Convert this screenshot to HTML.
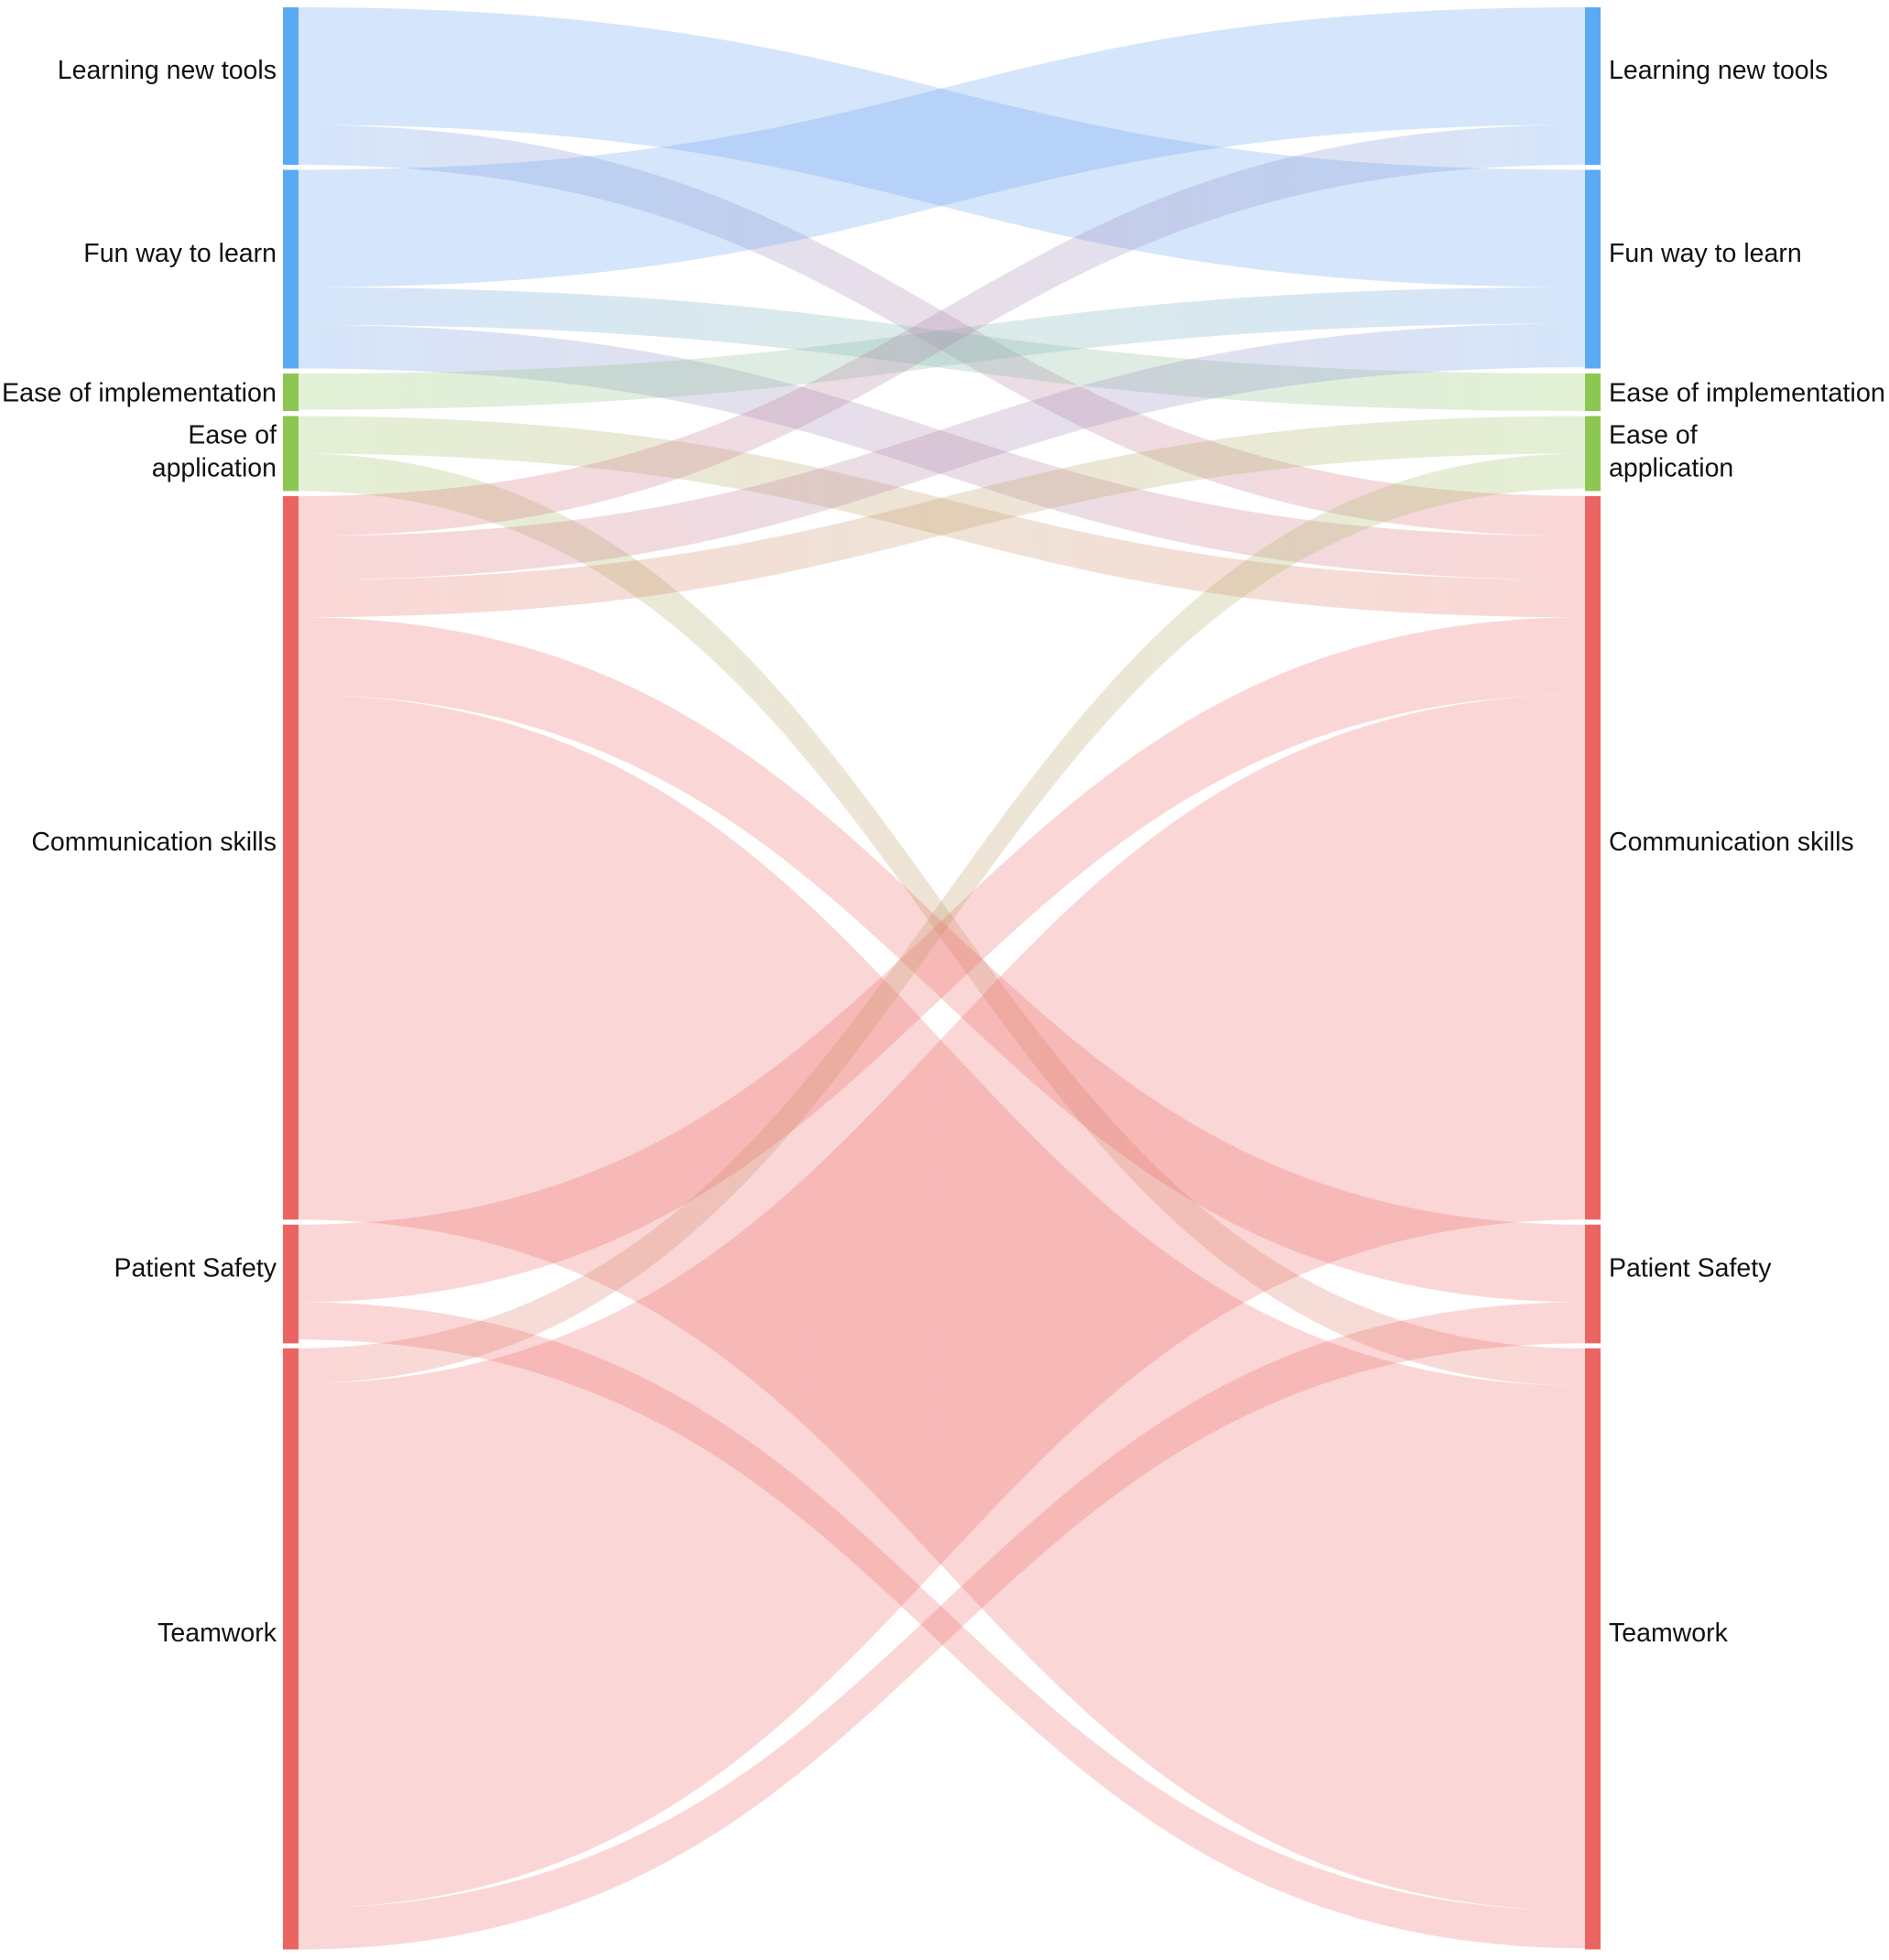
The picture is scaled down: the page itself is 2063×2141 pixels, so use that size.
<!DOCTYPE html>
<html><head><meta charset="utf-8">
<style>
html,body{margin:0;padding:0;background:#fff;}
svg{display:block;font-family:"Liberation Sans",sans-serif;}
</style></head>
<body>
<svg id="chart" width="2063" height="2141" viewBox="0 0 2063 2141" xmlns="http://www.w3.org/2000/svg">
<defs id="defs"></defs>
<g id="links"></g>
<g id="nodes"></g>
<g id="labels"></g>
</svg>
<script>
const nodeNames = ["Learning new tools","Fun way to learn","Ease of implementation","Ease of application","Communication skills","Patient Safety","Teamwork"];
const nodeColors = ["#5aa9f5","#5aa9f5","#8cc751","#8cc751","#ec6461","#ec6461","#ec6461"];
const linkSources = [0,0, 1,1,1, 2, 3,3, 4,4,4,4,4, 5,5, 6,6,6];
const linkTargets = [1,4, 0,2,4, 1, 4,6, 0,1,3,5,6, 4,6, 3,4,5];
const linkValues  = [94,32, 94,30,35, 29, 30,30, 32,35,30,62,420, 62,30, 28,420,33];

const svgNS="http://www.w3.org/2000/svg";
const K=1.365, TOP=8, GAP=5.5;
const LX0=309, LX1=325, RX0=1731, RX1=1748;
const n=nodeNames.length;
const outSum=new Array(n).fill(0), inSum=new Array(n).fill(0);
linkValues.forEach((v,i)=>{outSum[linkSources[i]]+=v;inSum[linkTargets[i]]+=v;});
const size=nodeNames.map((_,i)=>Math.max(outSum[i],inSum[i]));
const nodeY=[];let y=TOP;
for(let i=0;i<n;i++){nodeY.push(y);y+=size[i]*K+GAP;}

const idx=linkValues.map((_,i)=>i);
const srcOff=new Array(linkValues.length), tgtOff=new Array(linkValues.length);
for(let s=0;s<n;s++){let o=nodeY[s];idx.filter(i=>linkSources[i]===s).sort((a,b)=>linkTargets[a]-linkTargets[b]).forEach(i=>{srcOff[i]=o;o+=linkValues[i]*K;});}
for(let t=0;t<n;t++){let o=nodeY[t];idx.filter(i=>linkTargets[i]===t).sort((a,b)=>linkSources[a]-linkSources[b]).forEach(i=>{tgtOff[i]=o;o+=linkValues[i]*K;});}

const linkFill={"#5aa9f5":"rgb(110,165,240)","#8cc751":"rgb(150,200,100)","#ec6461":"rgb(236,100,97)"};
const linkOp={"#5aa9f5":0.29,"#8cc751":0.27,"#ec6461":0.26};
const gL=document.getElementById('links'), defs=document.getElementById('defs');
const xa=LX1, xb=RX0, xm=(xa+xb)/2;
idx.forEach(i=>{
  const h=linkValues[i]*K, y0=srcOff[i], y1=tgtOff[i];
  const cs=nodeColors[linkSources[i]], ct=nodeColors[linkTargets[i]];
  const g=document.createElementNS(svgNS,'linearGradient');
  g.setAttribute('id','g'+i);g.setAttribute('gradientUnits','userSpaceOnUse');
  g.setAttribute('x1',xa);g.setAttribute('x2',xb);g.setAttribute('y1',0);g.setAttribute('y2',0);
  [[0,cs],[1,ct]].forEach(([o,c])=>{const st=document.createElementNS(svgNS,'stop');st.setAttribute('offset',o);st.setAttribute('stop-color',linkFill[c]);st.setAttribute('stop-opacity',linkOp[c]);g.appendChild(st);});
  defs.appendChild(g);
  const d=`M${xa},${y0} C${xm},${y0} ${xm},${y1} ${xb},${y1} L${xb},${y1+h} C${xm},${y1+h} ${xm},${y0+h} ${xa},${y0+h} Z`;
  const p=document.createElementNS(svgNS,'path');
  p.setAttribute('d',d);
  p.setAttribute('fill','url(#g'+i+')');
  
  
  gL.appendChild(p);
});

const gN=document.getElementById('nodes'), gT=document.getElementById('labels');
for(let i=0;i<n;i++){
  [[LX0,'left'],[RX0,'right']].forEach(([x,side])=>{
    const r=document.createElementNS(svgNS,'rect');
    r.setAttribute('x',x);r.setAttribute('y',nodeY[i]);r.setAttribute('width',17);r.setAttribute('height',size[i]*K);
    r.setAttribute('fill',nodeColors[i]);
    
    
    gN.appendChild(r);
    const t=document.createElementNS(svgNS,'text');
    const cy=nodeY[i]+size[i]*K/2;
    const lx= side==='left'?302:1757;
    t.setAttribute('x',lx);
    t.setAttribute('font-size','28.5');
    t.setAttribute('fill','#111');
    t.setAttribute('text-anchor',side==='left'?'end':'start');
    
    
    if(i===3){
      t.setAttribute('y',cy-11);
      const a=document.createElementNS(svgNS,'tspan');a.setAttribute('x',lx);a.textContent='Ease of';
      const b=document.createElementNS(svgNS,'tspan');b.setAttribute('x',lx);b.setAttribute('dy','36');b.textContent='application';
      t.appendChild(a);t.appendChild(b);
    } else {
      const off = (i===2)?10:-8;
      t.setAttribute('y',cy+off);
      if(i===2 && side==='left'){t.setAttribute('textLength','300');t.setAttribute('lengthAdjust','spacingAndGlyphs');}
      if(i===2 && side==='right'){t.setAttribute('textLength','302');t.setAttribute('lengthAdjust','spacingAndGlyphs');}
      t.textContent=nodeNames[i];
    }
    gT.appendChild(t);
  });
}
</script>
</body></html>
